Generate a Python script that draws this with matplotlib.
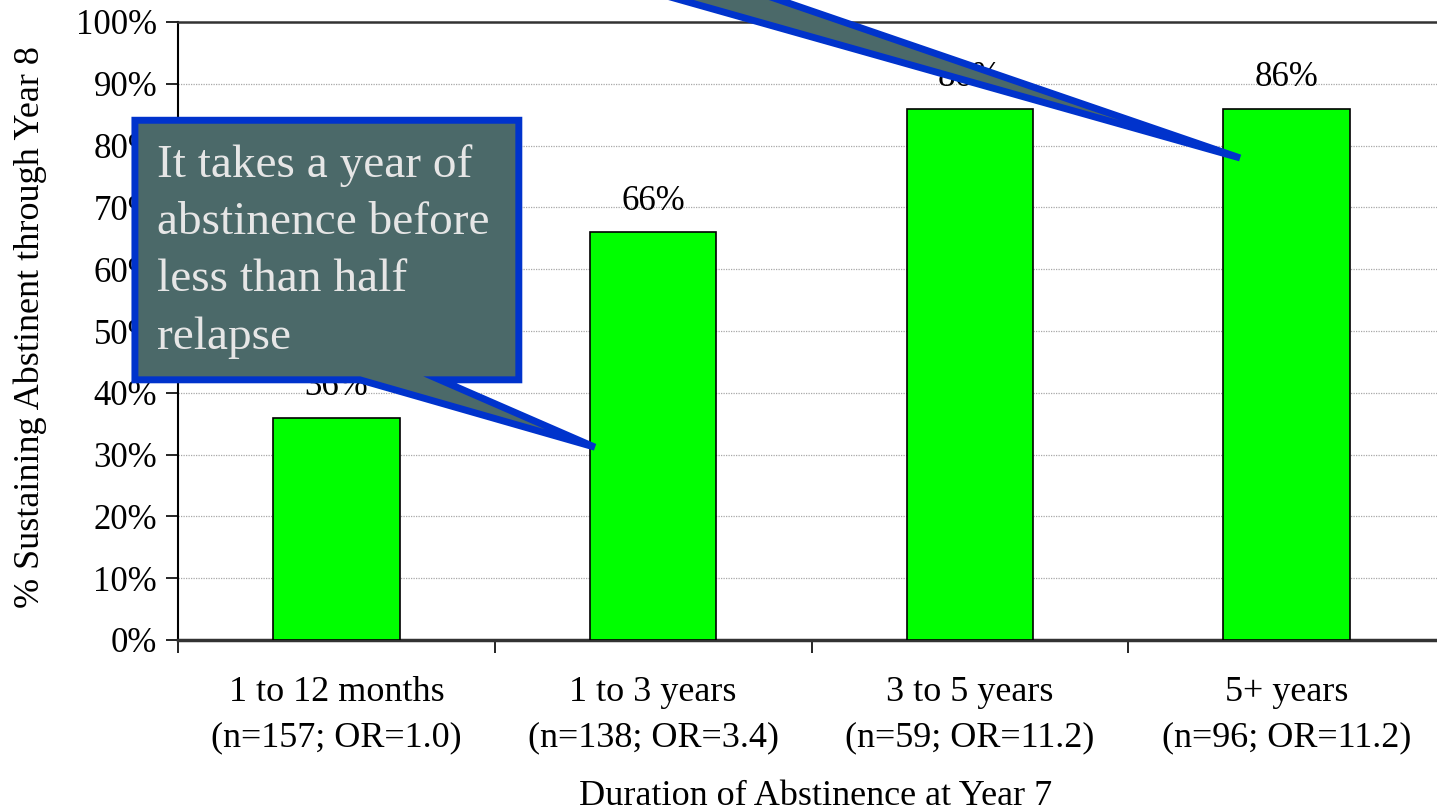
import matplotlib
matplotlib.use('Agg')
import matplotlib.pyplot as plt
from matplotlib.patches import Polygon

# 데이터
categories = ['1 to 12 months\n(n=157; OR=1.0)', '1 to 3 years\n(n=138; OR=3.4)',
              '3 to 5 years\n(n=59; OR=11.2)', '5+ years\n(n=96; OR=11.2)']
values = [36, 66, 86, 86]
value_labels = ['36%', '66%', '86%', '86%']
y_ticks = list(range(0, 101, 10))

plt.rcParams['font.family'] = ['Liberation Serif', 'DejaVu Serif']

fig = plt.figure(figsize=(14.37, 8.10), dpi=100)
ax = fig.add_axes([178 / 1437, 1 - 640 / 810, 1267 / 1437, 618 / 810])

x = list(range(len(categories)))
ax.bar(x, values, width=0.4, color='#00FF00', edgecolor='black', linewidth=1.2, zorder=3)
for xi, v, lab in zip(x, values, value_labels):
    ax.text(xi, v + 5, lab, ha='center', va='center', fontsize=25, zorder=4)

ax.set_xlim(-0.5, 3.5)
ax.set_ylim(0, 100)
ax.set_yticks(y_ticks)
ax.set_yticklabels([f'{t}%' for t in y_ticks])
ax.yaxis.grid(True, color='#A8A8A8', linestyle=(0, (1, 1)), linewidth=0.9, zorder=0)

ax.set_xticks(x)
ax.set_xticklabels(categories, fontsize=26, linespacing=1.5)
ax.set_xticks([-0.5, 0.5, 1.5, 2.5], minor=True)
ax.tick_params(axis='x', which='major', length=0, pad=26)
ax.tick_params(axis='x', which='minor', length=9, width=1.2, direction='out')
ax.tick_params(axis='y', length=9, width=1.2, direction='out', pad=6, labelsize=25)

ax.spines['right'].set_visible(False)
ax.spines['left'].set_linewidth(1.5)
ax.spines['top'].set_linewidth(1.8)
ax.spines['top'].set_color('#333333')
ax.spines['bottom'].set_linewidth(2.5)
ax.spines['bottom'].set_color('#333333')

ax.set_xlabel('Duration of Abstinence at Year 7', fontsize=26)
ax.xaxis.set_label_coords(0.5036, -0.226)
ax.set_ylabel('% Sustaining Abstinent through Year 8', fontsize=26, va='center')
ax.yaxis.set_label_coords(-0.117, 0.506)

# 말풍선 1
box1 = [(-0.636, 84.1), (0.576, 84.1), (0.576, 42.1), (0.327, 42.1),
        (0.816, 31.2), (0.074, 42.1), (-0.636, 42.1)]
p1 = Polygon(box1, closed=True, facecolor='#4B6969', edgecolor='#0033CC',
             linewidth=5, joinstyle='miter', zorder=6, clip_on=False)
ax.add_patch(p1)
ax.text(-0.567, 80.3, 'It takes a year of\nabstinence before\nless than half\nrelapse',
        ha='left', va='top', fontsize=34, color='#E6E6E6', linespacing=1.46, zorder=7)

# 말풍선 2 (상자는 그림 밖)
box2 = [(0.505, 112), (2.853, 78), (0.919, 112)]
p2 = Polygon(box2, closed=True, facecolor='#4B6969', edgecolor='#0033CC',
             linewidth=5, joinstyle='miter', zorder=6, clip_on=False)
ax.add_patch(p2)

fig.savefig('out.png', dpi=100)
